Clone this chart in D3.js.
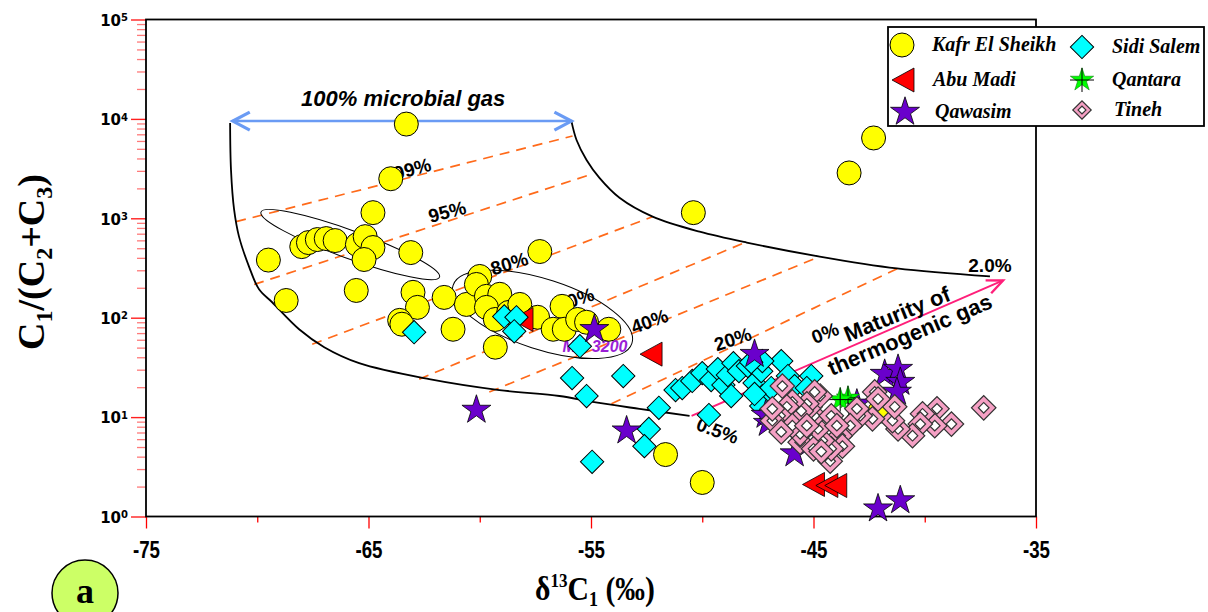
<!DOCTYPE html>
<html>
<head>
<meta charset="utf-8">
<script src="https://cdn.jsdelivr.net/npm/d3@7"></script>
<style>
  body { margin: 0; background: #fff; }
  svg { display: block; }
</style>
</head>
<body>
<svg id="chart"></svg>
<script>
// ---- data: [delta13C1, C1/(C2+C3)] ----
var xMajor = [-75, -65, -55, -45, -35];
var xMinor = [-70, -60, -50, -40];
var yMajor = [1, 10, 100, 1000, 10000, 100000];

var kafrElSheikh = [
  [-63.3, 8870], [-64.0, 2500], [-64.8, 1140], [-69.5, 380], [-68.7, 149],
  [-68.0, 519], [-67.7, 570], [-67.3, 611], [-66.9, 625], [-66.5, 597],
  [-65.5, 544], [-65.15, 654], [-64.8, 508], [-65.2, 385], [-63.1, 452],
  [-65.55, 188], [-63.0, 180], [-62.8, 127], [-61.6, 160], [-63.6, 94],
  [-63.5, 86], [-61.2, 76.5], [-57.3, 463], [-60.0, 260], [-60.6, 136],
  [-60.15, 216], [-59.7, 164], [-59.1, 172], [-59.7, 127], [-59.3, 96],
  [-59.3, 50.5], [-58.7, 113], [-58.2, 136], [-57.4, 101], [-56.3, 130],
  [-56.7, 76.5], [-56.2, 76.5], [-55.6, 96], [-55.2, 90], [-54.2, 76.5],
  [-50.4, 1140], [-43.4, 2860], [-42.3, 6430], [-51.65, 4.2], [-50.0, 2.2],
  [-42.0, 11.5]
];
var abuMadi = [[-52.3, 43], [-58.1, 96], [-45.0, 2.1], [-44.4, 2.05], [-44.0, 2.05]];
var sidiSalem = [
  [-62.95, 71.4], [-58.9, 103], [-58.35, 101], [-58.45, 73], [-55.5, 51.7],
  [-55.85, 24.7], [-55.2, 16.3], [-53.55, 25.9], [-51.95, 12.4], [-52.4, 7.6],
  [-52.6, 5.1], [-54.95, 3.55], [-49.7, 10.5], [-51.2, 18.7], [-50.9, 19.6],
  [-50.45, 23.1], [-50.0, 27.7], [-49.6, 23.6], [-49.3, 30.4], [-49.05, 21.0],
  [-48.85, 26.5], [-48.6, 34.9], [-48.35, 29.0], [-47.95, 32.6], [-47.65, 22.0],
  [-47.35, 29.0], [-47.3, 16.3], [-46.9, 19.6], [-46.45, 36.6], [-46.15, 25.9],
  [-45.85, 20.5], [-45.1, 25.9], [-45.3, 19.6], [-47.35, 12.9], [-46.95, 11.5],
  [-47.65, 17.1], [-48.7, 16.3], [-47.3, 36.6], [-47.8, 35.7]
];
var qawasim = [
  [-60.15, 11.8], [-54.85, 76.5], [-53.4, 7.3], [-47.65, 43], [-45.85, 4.3],
  [-42.1, 1.2], [-41.1, 1.45], [-41.8, 27.1], [-41.2, 30.4], [-41.1, 22.5],
  [-41.25, 17.9], [-47.15, 10.5], [-47.05, 8.7], [-43.05, 13.6]
];
var qantara = [[-43.45, 15.6], [-43.8, 15.0]];
var tineh = [
  [-37.35, 12.4], [-38.8, 8.5], [-39.45, 12.1], [-39.55, 8.2], [-40.1, 10.8],
  [-40.2, 8.5], [-40.55, 6.5], [-41.2, 7.6], [-41.45, 9.2], [-41.35, 12.7],
  [-42.25, 17.9], [-42.1, 15.2], [-42.35, 9.6], [-42.9, 10.3], [-43.05, 12.1],
  [-43.35, 8.2], [-43.8, 6.5], [-43.7, 5.1], [-44.25, 3.6], [-44.2, 4.8],
  [-44.6, 5.8], [-44.8, 7.6], [-44.95, 10.3], [-45.15, 12.7], [-44.7, 16.3],
  [-44.95, 17.9], [-45.3, 13.6], [-45.55, 11.5], [-45.95, 14.2], [-46.2, 12.7],
  [-46.5, 10.3], [-46.85, 9.2], [-46.85, 12.1], [-46.4, 20.5], [-45.6, 5.6],
  [-45.6, 6.8], [-45.0, 4.8], [-44.65, 4.5], [-45.95, 8.2], [-46.45, 7.1],
  [-45.3, 8.2], [-44.2, 10.3], [-43.95, 8.2]
];

// genetic diagram guide lines
var lowerCurve = [
  [-71.22, 9080], [-71.18, 3070], [-71.04, 1220], [-70.82, 654], [-70.37, 327],
  [-69.92, 193], [-69.33, 143], [-68.12, 76.5], [-66.99, 50.5], [-65.42, 34.9],
  [-62.27, 24.1], [-59.12, 18.7], [-56.42, 16.3], [-54.93, 14.2], [-52.82, 12.1],
  [-50.57, 10.3]
];
var upperCurve = [
  [-55.88, 9500], [-55.65, 6140], [-55.2, 3865], [-54.62, 2550], [-53.72, 1610],
  [-52.23, 1040], [-50.12, 734], [-48.0, 570], [-44.72, 412], [-41.25, 313],
  [-37.07, 260]
];
var mixingLines = [
  [[-70.95, 925], [-55.83, 6730]],
  [[-70.14, 216], [-55.07, 2735]],
  [[-67.53, 54.1], [-52.23, 1038]],
  [[-62.72, 24.1], [-48.09, 570]],
  [[-59.57, 17.9], [-44.72, 412]],
  [[-54.08, 13.6], [-41.12, 320]]
];
var microbialArrow = [[-71.1, 9500], [-55.88, 9500]];
var maturityArrow = [[-50.48, 10.3], [-36.48, 237]];
var ellipses = [[-65.82, 544], [-57.18, 108]];

// text annotations: [text, x, y, angle]
var mixLabels = [
  ["99%", -63.03, 3140, -15], ["95%", -61.46, 1164, -15], ["80%", -58.67, 351, -17],
  ["60%", -55.7, 153, -18], ["40%", -52.37, 92, -20], ["20%", -48.63, 60.8, -18],
  ["0.5%", -49.31, 7.3, 20], ["2.0%", -37.07, 335, 0]
];
var maturityLabels = [
  ["0%", -44.94, 54.1, -22], ["Maturity of", -43.46, 56.7, -22], ["thermogenic gas", -44.18, 25.9, -23]
];

var seriesNames = ["Kafr El Sheikh", "Abu Madi", "Qawasim", "Sidi Salem", "Qantara", "Tineh"];

var width = 1208, height = 612;
var svg = d3.select("#chart").attr("width", width).attr("height", height);

var x = d3.scaleLinear().domain([-75, -35]).range([146, 1036]);
var y = d3.scaleLog().domain([1, 1e5]).range([516.5, 19.5]);

// ---- axes ----
var xAxisG = svg.append("g").attr("transform", "translate(0," + y(1) + ")")
  .call(d3.axisBottom(x).tickValues(xMajor).tickSize(12).tickPadding(12).tickFormat(function(d) { return String(d); }));
xAxisG.select(".domain").remove();
xAxisG.selectAll("line").attr("stroke", "#ff0000").attr("stroke-width", 1.3);
xAxisG.selectAll("text")
  .attr("font-family", "'Liberation Sans', Arial, sans-serif")
  .attr("font-weight", "bold").attr("font-size", 24).attr("fill", "#000")
  .attr("transform", "scale(0.78,1)");

var xMinorG = svg.append("g").attr("transform", "translate(0," + y(1) + ")")
  .call(d3.axisBottom(x).tickValues(xMinor).tickSize(6).tickFormat(""));
xMinorG.select(".domain").remove();
xMinorG.selectAll("line").attr("stroke", "#ff0000").attr("stroke-width", 1.3);

var yMinor = [];
for (var d = 0; d < 5; d++) {
  for (var k = 2; k <= 9; k++) yMinor.push(k * Math.pow(10, d));
}
var yMinorG = svg.append("g").attr("transform", "translate(" + x(-75) + ",0)")
  .call(d3.axisLeft(y).tickValues(yMinor).tickSize(9).tickFormat(""));
yMinorG.select(".domain").remove();
yMinorG.selectAll("line").attr("stroke", "#ff7a7a").attr("stroke-width", 1.3);

var yAxisG = svg.append("g").attr("transform", "translate(" + x(-75) + ",0)")
  .call(d3.axisLeft(y).tickValues(yMajor).tickSize(15).tickFormat(""));
yAxisG.select(".domain").remove();
yAxisG.selectAll("line").attr("stroke", "#ff2020").attr("stroke-width", 1.4);
yAxisG.selectAll(".tick").append("text")
  .attr("x", -18).attr("dy", "0.38em")
  .attr("text-anchor", "end").attr("fill", "#000")
  .attr("font-family", "'DejaVu Sans', sans-serif").attr("font-weight", "bold").attr("font-size", 15)
  .each(function(v) {
    var t = d3.select(this);
    t.append("tspan").text("10");
    t.append("tspan").attr("dy", "-0.45em").attr("font-size", 10).text(Math.round(Math.log10(v)));
  });

// frame
svg.append("rect")
  .attr("x", x(-75)).attr("y", y(1e5))
  .attr("width", x(-35) - x(-75)).attr("height", y(1) - y(1e5))
  .attr("fill", "none").attr("stroke", "#000").attr("stroke-width", 1.8);

// axis titles
var yTitle = svg.append("text")
  .attr("transform", "translate(44,262) rotate(-90)")
  .attr("text-anchor", "middle")
  .attr("font-family", "'Liberation Serif', 'Times New Roman', serif")
  .attr("font-weight", "bold").attr("font-size", 38);
yTitle.append("tspan").text("C");
yTitle.append("tspan").attr("font-size", 24).attr("dy", 8).text("1");
yTitle.append("tspan").attr("dy", -8).text("/(C");
yTitle.append("tspan").attr("font-size", 24).attr("dy", 8).text("2");
yTitle.append("tspan").attr("dy", -8).text("+C");
yTitle.append("tspan").attr("font-size", 24).attr("dy", 8).text("3");
yTitle.append("tspan").attr("dy", -8).text(")");

var xTitle = svg.append("text")
  .attr("transform", "translate(595,600) scale(0.9,1)")
  .attr("text-anchor", "middle")
  .attr("font-family", "'Liberation Serif', 'Times New Roman', serif")
  .attr("font-weight", "bold").attr("font-size", 33);
xTitle.append("tspan").text("\u03b4");
xTitle.append("tspan").attr("font-size", 19).attr("dy", -13).text("13");
xTitle.append("tspan").attr("dy", 13).text("C");
xTitle.append("tspan").attr("font-size", 20).attr("dy", 6).text("1");
xTitle.append("tspan").attr("dy", -6).text(" (\u2030)");

// ---- guide lines ----
var line = d3.line().x(function(p) { return x(p[0]); }).y(function(p) { return y(p[1]); });

svg.selectAll(".mix").data(mixingLines).enter().append("path")
  .attr("class", "mix").attr("d", line)
  .attr("fill", "none").attr("stroke", "#ff6a1a").attr("stroke-width", 1.7)
  .attr("stroke-dasharray", "10,7");

var smooth = d3.line().curve(d3.curveCatmullRom.alpha(0.5))
  .x(function(p) { return x(p[0]); }).y(function(p) { return y(p[1]); });
svg.append("path").attr("d", smooth(lowerCurve)).attr("fill", "none").attr("stroke", "#000").attr("stroke-width", 1.8);
svg.append("path").attr("d", smooth(upperCurve)).attr("fill", "none").attr("stroke", "#000").attr("stroke-width", 1.8);

// arrows
function chevron(tip, from, len, half) {
  var dx = tip[0] - from[0], dy = tip[1] - from[1];
  var l = Math.sqrt(dx * dx + dy * dy);
  var ux = dx / l, uy = dy / l;
  var bx = tip[0] - ux * len, by = tip[1] - uy * len;
  return "M" + (bx - uy * half) + "," + (by + ux * half) + "L" + tip[0] + "," + tip[1] +
         "L" + (bx + uy * half) + "," + (by - ux * half);
}
var mA = microbialArrow.map(function(p) { return [x(p[0]), y(p[1])]; });
svg.append("path").attr("d", line(microbialArrow)).attr("stroke", "#6a9bf4").attr("stroke-width", 2.5);
svg.append("path").attr("d", chevron(mA[0], mA[1], 17, 9) + chevron(mA[1], mA[0], 17, 9))
  .attr("fill", "none").attr("stroke", "#6a9bf4").attr("stroke-width", 3.2);

var tA = maturityArrow.map(function(p) { return [x(p[0]), y(p[1])]; });
svg.append("path").attr("d", line(maturityArrow)).attr("stroke", "#ff1f7a").attr("stroke-width", 2);
svg.append("path").attr("d", chevron(tA[1], tA[0], 16, 7))
  .attr("fill", "none").attr("stroke", "#ff1f7a").attr("stroke-width", 2.4);

// labels
svg.append("text")
  .attr("x", x(-63.44)).attr("y", y(16150)).attr("dy", "0.35em")
  .attr("text-anchor", "middle")
  .attr("font-family", "'Liberation Sans', Arial, sans-serif")
  .attr("font-weight", "bold").attr("font-style", "italic").attr("font-size", 22)
  .text("100% microbial gas");

svg.selectAll(".mixlab").data(mixLabels).enter().append("text")
  .attr("class", "mixlab")
  .attr("transform", function(d) { return "translate(" + x(d[1]) + "," + y(d[2]) + ") rotate(" + d[3] + ")"; })
  .attr("dy", "0.35em").attr("text-anchor", "middle")
  .attr("font-family", "'Liberation Sans', Arial, sans-serif")
  .attr("font-weight", "bold").attr("font-size", 19)
  .text(function(d) { return d[0]; });

svg.selectAll(".matlab").data(maturityLabels).enter().append("text")
  .attr("class", "matlab")
  .attr("transform", function(d) { return "translate(" + x(d[1]) + "," + y(d[2]) + ") rotate(" + d[3] + ")"; })
  .attr("font-family", "'Liberation Sans', Arial, sans-serif")
  .attr("font-weight", "bold").attr("font-size", function(d, i) { return i === 0 ? 19 : 22; })
  .text(function(d) { return d[0]; });

svg.append("text")
  .attr("x", x(-56.28)).attr("y", y(45))
  .attr("font-family", "'Liberation Sans', Arial, sans-serif")
  .attr("font-weight", "bold").attr("font-style", "italic").attr("font-size", 16)
  .attr("fill", "#9a1ed6")
  .text("MK 3200");

// ellipses
var ellSizes = [[95, 14, 20], [94, 35, 18]];
svg.selectAll(".ell").data(ellipses).enter().append("ellipse")
  .attr("class", "ell")
  .attr("transform", function(d, i) { return "translate(" + x(d[0]) + "," + y(d[1]) + ") rotate(" + ellSizes[i][2] + ")"; })
  .attr("rx", function(d, i) { return ellSizes[i][0]; })
  .attr("ry", function(d, i) { return ellSizes[i][1]; })
  .attr("fill", "none").attr("stroke", "#000").attr("stroke-width", 1);

// ---- markers ----
var squarePath = function(s) { return d3.symbol().type(d3.symbolSquare).size(s)(); };
var starPath = d3.symbol().type(d3.symbolStar).size(260)();
var trianglePath = "M-11,0L11,-12L11,12Z";

function drawCircle(g) {
  g.append("circle").attr("r", 12).attr("fill", "#ffff00").attr("stroke", "#000").attr("stroke-width", 1);
}
function drawTriangle(g) {
  g.append("path").attr("d", trianglePath).attr("fill", "#ff0000").attr("stroke", "#000").attr("stroke-width", 0.8);
}
function drawDiamond(g) {
  g.append("path").attr("d", squarePath(272)).attr("transform", "rotate(45)")
    .attr("fill", "#00ffff").attr("stroke", "#000").attr("stroke-width", 1);
}
function drawStar(g) {
  g.append("path").attr("d", starPath).attr("fill", "#6a00cc").attr("stroke", "#000").attr("stroke-width", 0.8);
}
function drawQantara(g) {
  g.append("path").attr("d", d3.symbol().type(d3.symbolStar).size(170)())
    .attr("fill", "#00ff00").attr("stroke", "#006600").attr("stroke-width", 0.5);
  g.append("path").attr("d", "M0,-12V12M-12,0H12").attr("stroke", "#000").attr("stroke-width", 1);
}
function drawTineh(g, big) {
  var s = big ? 1 : 0.75;
  g.append("path").attr("d", squarePath(300 * s * s)).attr("transform", "rotate(45)")
    .attr("fill", "#f5a0c4").attr("stroke", "#333").attr("stroke-width", 1.2);
  g.append("path").attr("d", squarePath(56 * s * s)).attr("transform", "rotate(45)")
    .attr("fill", "#fff").attr("stroke", "#333").attr("stroke-width", 1.2);
}

function plotSeries(data, draw) {
  svg.append("g").selectAll("g").data(data).enter().append("g")
    .attr("transform", function(p) { return "translate(" + x(p[0]) + "," + y(p[1]) + ")"; })
    .each(function() { draw(d3.select(this), true); });
}
plotSeries(kafrElSheikh, drawCircle);
plotSeries(abuMadi, drawTriangle);
plotSeries(sidiSalem, drawDiamond);
plotSeries(qawasim, drawStar);
plotSeries(qantara, drawQantara);
plotSeries(tineh, drawTineh);

// ---- legend ----
var legend = svg.append("g");
legend.append("rect").attr("x", 888).attr("y", 27).attr("width", 316).attr("height", 99)
  .attr("fill", "#fff").attr("stroke", "#000").attr("stroke-width", 1.8);
var legDraw = [drawCircle, drawTriangle, drawStar, drawDiamond, drawQantara, drawTineh];
var legPos = [[902, 45, 932], [903, 80, 933], [905, 112, 935], [1082, 47, 1112], [1082, 80, 1112], [1082, 110, 1114]];
seriesNames.forEach(function(name, i) {
  var g = legend.append("g").attr("transform", "translate(" + legPos[i][0] + "," + legPos[i][1] + ")");
  legDraw[i](g, false);
  legend.append("text").attr("x", legPos[i][2]).attr("y", legPos[i][1] + 6)
    .attr("font-family", "'Liberation Serif', 'Times New Roman', serif")
    .attr("font-weight", "bold").attr("font-style", "italic").attr("font-size", 20)
    .text(name);
});

// panel badge
svg.append("circle").attr("cx", 85).attr("cy", 593).attr("r", 33)
  .attr("fill", "#ccff66").attr("stroke", "#000").attr("stroke-width", 1.5);
svg.append("text").attr("x", 85).attr("y", 603).attr("text-anchor", "middle")
  .attr("font-family", "'Liberation Serif', 'Times New Roman', serif")
  .attr("font-weight", "bold").attr("font-size", 36).text("a");
</script>
</body>
</html>
